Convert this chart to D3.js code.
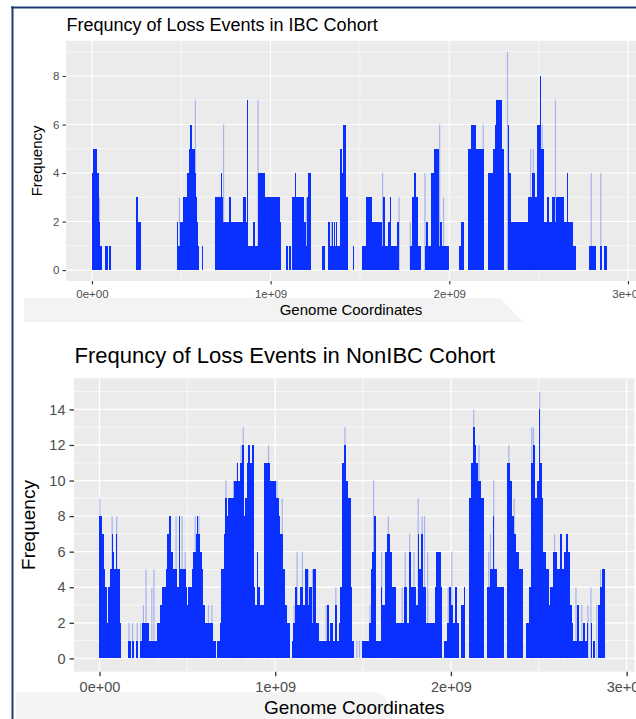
<!DOCTYPE html>
<html>
<head>
<meta charset="utf-8">
<script src="https://cdn.jsdelivr.net/npm/d3@7"></script>
<style>
  html, body { margin: 0; padding: 0; background: #fff; }
  svg { display: block; font-family: "Liberation Sans", Arial, Helvetica, sans-serif; }
</style>
</head>
<body>
<svg id="chart" width="636" height="719"></svg>
<script>
// Loss-event frequency, step segments: [start Mb, end Mb, frequency]
const ibcSegments = [
  [0,7,4],[7,30,5],[30,37,4],[37,45,2],[45,54,1],
  [75,91,1],[95,106,1],
  [248,258,3],[258,276,2],
  [474,482,2],[482,493,1],[493,512,2],[512,534,3],[534,541,4],[541,549,5],[549,562,6],[562,575,5],[575,581,4],[581,586,3],[586,592,2],[592,598,1],[614,620,1],
  [691,721,3],[721,728,4],[728,736,3],[736,769,2],[769,777,3],[777,845,2],[845,862,3],[862,870,2],[870,876,7],[876,904,1],[904,913,2],[913,928,1],[928,971,4],[971,1050,3],[1050,1059,2],
  [1087,1098,1],[1103,1114,1],[1122,1137,3],[1137,1142,4],[1142,1168,3],[1168,1172,4],[1172,1185,3],[1185,1196,2],[1196,1203,1],[1203,1211,3],[1211,1228,4],
  [1286,1305,1],[1324,1332,2],[1332,1342,1],[1342,1348,2],[1348,1354,1],[1354,1360,2],[1360,1366,1],[1366,1372,2],[1372,1389,1],[1389,1401,5],[1401,1406,4],[1406,1424,6],[1424,1432,3],[1432,1436,1],[1460,1467,1],
  [1511,1536,1],[1536,1567,3],[1567,1624,2],[1624,1630,1],[1630,1639,3],[1639,1656,1],[1656,1667,2],[1667,1674,3],[1674,1708,1],[1708,1719,2],
  [1779,1792,1],[1792,1805,3],[1805,1816,4],[1816,1824,3],[1824,1839,1],
  [1862,1867,1],[1867,1880,2],[1880,1895,1],[1895,1914,4],[1914,1944,5],[1944,1950,1],[1950,1958,2],[1958,1985,1],[1990,1998,1],
  [2055,2068,1],[2068,2083,2],
  [2102,2107,6],[2107,2121,5],[2121,2148,6],[2148,2195,5],
  [2218,2246,4],[2246,2255,5],[2255,2264,6],[2264,2293,7],[2293,2304,5],
  [2326,2336,6],[2336,2345,4],[2345,2443,2],[2443,2463,3],[2463,2480,4],[2480,2490,3],[2490,2508,6],[2508,2514,8],[2514,2530,5],[2530,2545,2],[2545,2560,3],[2560,2575,2],[2575,2590,3],[2590,2598,2],[2598,2640,3],[2640,2658,2],[2658,2665,4],[2665,2695,2],[2695,2712,1],
  [2784,2822,1],[2842,2855,1],[2866,2882,1]
];
// thin, faint single-position peaks: [position Mb, frequency]
const ibcSpikes = [
  [42,3],[490,3],[579,7],[737,6],[848,3],[930,7],[1200,3],[1326,2],[1340,2],[1627,4],[1719,3],[1782,2],
  [1864,4],[1946,6],[1968,3],[2190,6],[2326,9],[2455,5],[2470,5],[2520,6],[2594,7],[2795,4],[2848,4]
];

const nonIbcSegments = [
  [0,13,8],[13,23,7],[23,32,5],[32,42,4],[42,51,2],[51,61,4],[61,70,5],[70,76,7],[76,83,6],[83,95,5],[95,102,7],[102,114,5],[114,121,2],
  [165,178,1],[184,197,1],[209,222,1],[231,243,1],
  [243,280,2],[280,326,1],[326,345,2],
  [345,355,3],[355,380,4],[380,387,5],[387,393,7],[393,408,8],[408,417,6],[417,440,5],[440,455,4],[455,460,8],[460,490,5],[490,497,4],[497,505,3],[505,527,4],[527,535,5],[535,550,6],[550,555,7],[555,562,8],[562,573,7],[573,583,6],[583,592,5],[592,603,3],[603,645,2],[645,664,1],
  [668,687,1],[687,693,2],[693,706,5],[706,715,7],[715,725,9],[725,734,8],[734,767,9],[767,782,10],[782,791,11],[791,801,10],[801,810,11],[810,824,12],[824,831,8],[831,842,9],[842,848,11],[848,858,12],[858,867,11],[867,877,12],[877,886,4],[886,896,3],[896,905,6],[905,915,4],[915,934,3],[934,972,11],[972,1006,10],[1006,1019,9],[1019,1028,8],[1028,1044,7],[1044,1057,5],[1057,1066,3],[1066,1082,2],
  [1095,1104,1],[1104,1114,2],[1114,1127,4],[1127,1142,3],[1142,1157,4],[1157,1171,3],[1171,1184,5],[1184,1195,3],[1195,1209,4],[1209,1218,2],[1218,1233,5],[1233,1247,2],[1247,1294,1],[1294,1304,3],[1304,1313,1],[1313,1328,2],[1328,1342,1],[1342,1351,3],[1351,1361,1],[1361,1370,2],[1370,1380,4],
  [1380,1393,11],[1393,1404,12],[1404,1415,10],[1415,1431,9],[1431,1437,4],[1437,1451,1],
  [1496,1534,1],[1534,1543,2],[1543,1553,5],[1553,1562,6],[1562,1574,8],[1574,1600,1],[1600,1610,4],[1610,1623,3],[1623,1638,6],[1638,1653,7],[1653,1666,6],[1666,1685,4],[1685,1733,2],[1733,1752,4],[1752,1761,2],[1761,1771,6],[1771,1799,4],[1799,1812,3],[1812,1820,7],[1820,1831,5],[1831,1842,7],[1842,1856,4],[1856,1907,2],[1907,1913,4],[1913,1941,6],[1941,1951,4],
  [1963,1979,1],[1979,1988,2],[1988,2001,4],[2001,2013,3],[2013,2026,2],[2026,2035,4],[2035,2045,2],[2058,2073,3],[2073,2083,4],
  [2102,2115,9],[2115,2126,11],[2126,2135,13],[2135,2145,12],[2145,2154,11],[2154,2173,10],[2173,2190,9],
  [2203,2220,4],[2220,2239,5],[2239,2248,8],[2248,2263,5],[2263,2305,4],
  [2318,2334,11],[2334,2345,10],[2345,2357,8],[2357,2372,7],[2372,2385,6],[2385,2410,5],
  [2425,2442,2],[2442,2455,4],[2455,2467,11],[2467,2480,12],[2480,2489,9],[2489,2501,10],[2501,2508,14],[2508,2518,11],[2518,2527,9],[2527,2542,6],[2542,2556,5],[2556,2565,3],[2565,2584,4],[2584,2603,6],[2603,2622,5],[2622,2631,7],[2631,2641,5],[2641,2656,6],[2656,2665,7],[2665,2679,6],[2679,2688,3],[2688,2697,2],
  [2697,2716,1],[2716,2728,3],[2728,2750,1],[2750,2764,2],[2764,2773,1],[2773,2783,2],[2796,2803,2],[2811,2820,1],[2839,2849,3],[2849,2858,4],[2858,2877,5]
];
const nonIbcSpikes = [
  [2,9],[72,8],[98,8],[168,2],[188,2],[215,2],[235,2],[250,3],[265,5],[298,4],[310,5],[436,8],[470,8],[488,6],[545,8],[566,8],[620,3],[640,3],
  [720,10],[763,10],[785,11],[806,12],[818,13],[852,12],[962,12],[1010,10],[1040,9],[1108,3],[1125,6],[1155,6],[1188,5],[1212,5],[1290,3],[1345,4],[1375,4],
  [1397,13],[1465,1],[1480,1],[1540,3],[1560,10],[1606,6],[1644,8],[1723,4],[1740,6],[1765,7],[1790,6],[1814,9],[1836,8],[1850,8],[1868,6],[1985,4],[2005,6],
  [2130,14],[2160,12],[2215,6],[2225,7],[2244,10],[2330,12],[2360,9],[2460,13],[2470,13],[2505,15],[2590,7],[2625,7],[2660,7],[2712,4],[2745,3],[2780,3],[2797,4],[2830,3],[2852,5]
];

const xTickValues = [0, 1e9, 2e9, 3e9];
const xTickLabels = ["0e+00", "1e+09", "2e+09", "3e+09"];
const xMinorValues = [0.5e9, 1.5e9, 2.5e9];
const ibcYTicks = [0, 2, 4, 6, 8];
const nonIbcYTicks = [0, 2, 4, 6, 8, 10, 12, 14];

const blue = "#0a30ff";
const svg = d3.select("#chart");

// screenshot decorations: light bands and the frame on the left / top
svg.append("polygon")
  .attr("points", "24,298 500,298 523,322 24,322")
  .attr("fill", "#f3f3f3");
svg.append("path")
  .attr("d", "M16,692 L376,692 Q386,694 389,706 L392,719 L16,719 Z")
  .attr("fill", "#f4f4f4");
svg.append("line").attr("x1", 11).attr("x2", 636).attr("y1", 7.5).attr("y2", 7.5)
  .attr("stroke", "#1e3c74").attr("stroke-width", 2);
svg.append("line").attr("x1", 12.5).attr("x2", 12.5).attr("y1", 6.5).attr("y2", 719)
  .attr("stroke", "#1e3c74").attr("stroke-width", 2);

function drawPanel(p) {
  const x = d3.scaleLinear().domain([-0.145e9, 3.045e9]).range([p.left, p.right]);
  const y = d3.scaleLinear().domain(p.yDomain).range([p.bottom, p.top]);
  const g = svg.append("g");

  g.append("rect")
    .attr("x", p.left).attr("y", p.top)
    .attr("width", p.right - p.left).attr("height", p.bottom - p.top)
    .attr("fill", "#ebebeb");

  // minor grid
  const yMinor = p.yTicks.map(v => v + 1);
  g.selectAll(".ymin").data(yMinor).join("line")
    .attr("x1", p.left).attr("x2", p.right)
    .attr("y1", d => y(d)).attr("y2", d => y(d))
    .attr("stroke", "#fff").attr("stroke-width", p.minorW);
  g.selectAll(".xmin").data(xMinorValues).join("line")
    .attr("y1", p.top).attr("y2", p.bottom)
    .attr("x1", d => x(d)).attr("x2", d => x(d))
    .attr("stroke", "#fff").attr("stroke-width", p.minorW);
  // major grid
  g.selectAll(".ymaj").data(p.yTicks).join("line")
    .attr("x1", p.left).attr("x2", p.right)
    .attr("y1", d => y(d)).attr("y2", d => y(d))
    .attr("stroke", "#fff").attr("stroke-width", p.majorW);
  g.selectAll(".xmaj").data(xTickValues).join("line")
    .attr("y1", p.top).attr("y2", p.bottom)
    .attr("x1", d => x(d)).attr("x2", d => x(d))
    .attr("stroke", "#fff").attr("stroke-width", p.majorW);

  // frequency bars
  g.append("g").selectAll("rect").data(p.segments).join("rect")
    .attr("x", d => x(d[0] * 1e6))
    .attr("width", d => x(d[1] * 1e6) - x(d[0] * 1e6))
    .attr("y", d => y(d[2]))
    .attr("height", d => y(0) - y(d[2]))
    .attr("fill", blue)
    .attr("shape-rendering", "crispEdges");

  // faint single peaks
  g.append("g").selectAll("rect").data(p.spikes).join("rect")
    .attr("x", d => x(d[0] * 1e6) - 0.6)
    .attr("width", 1.2)
    .attr("y", d => y(d[1]))
    .attr("height", d => y(0) - y(d[1]))
    .attr("fill", blue)
    .attr("opacity", 0.3);

  // axes
  const yAxis = g.append("g")
    .attr("transform", `translate(${p.left},0)`)
    .call(d3.axisLeft(y).tickValues(p.yTicks).tickSize(p.tickLen).tickPadding(p.yPad));
  const xAxis = g.append("g")
    .attr("transform", `translate(0,${p.bottom})`)
    .call(d3.axisBottom(x).tickValues(xTickValues).tickSize(p.tickLen).tickPadding(p.xPad)
      .tickFormat((d, i) => xTickLabels[i]));
  [yAxis, xAxis].forEach(a => {
    a.select(".domain").remove();
    a.attr("font-family", null).attr("font-size", null);
    a.selectAll("line").attr("stroke", "#333").attr("stroke-width", p.majorW);
    a.selectAll("text").attr("fill", "#4d4d4d").style("font-size", p.tickFont + "px");
  });

  // titles
  svg.append("text")
    .attr("x", p.left + 0.5).attr("y", p.titleY)
    .style("font-size", p.titleFont + "px")
    .attr("fill", "#000")
    .text(p.title);
  svg.append("text")
    .attr("x", (p.left + p.right) / 2).attr("y", p.xTitleY)
    .attr("text-anchor", "middle")
    .style("font-size", p.axisFont + "px")
    .attr("fill", "#000")
    .text("Genome Coordinates");
  svg.append("text")
    .attr("transform", `translate(${p.yTitleX},${(p.top + p.bottom) / 2}) rotate(-90)`)
    .attr("text-anchor", "middle")
    .style("font-size", p.axisFont + "px")
    .attr("fill", "#000")
    .text("Frequency");
}

drawPanel({
  title: "Frequncy of Loss Events in IBC Cohort",
  segments: ibcSegments, spikes: ibcSpikes, yTicks: ibcYTicks,
  yDomain: [-0.45, 9.45],
  left: 66, right: 636, top: 40.8, bottom: 281,
  majorW: 1.1, minorW: 0.55, tickLen: 3.5, yPad: 3, xPad: 5,
  tickFont: 11.5, titleFont: 18, axisFont: 15,
  titleY: 30.5, xTitleY: 315, yTitleX: 41.5
});

drawPanel({
  title: "Frequncy of Loss Events in NonIBC Cohort",
  segments: nonIbcSegments, spikes: nonIbcSpikes, yTicks: nonIbcYTicks,
  yDomain: [-0.75, 15.75],
  left: 74, right: 634.5, top: 378.3, bottom: 671.7,
  majorW: 1.3, minorW: 0.65, tickLen: 4.5, yPad: 4, xPad: 6,
  tickFont: 14.5, titleFont: 22, axisFont: 19,
  titleY: 363.3, xTitleY: 714, yTitleX: 35
});
</script>
</body>
</html>
